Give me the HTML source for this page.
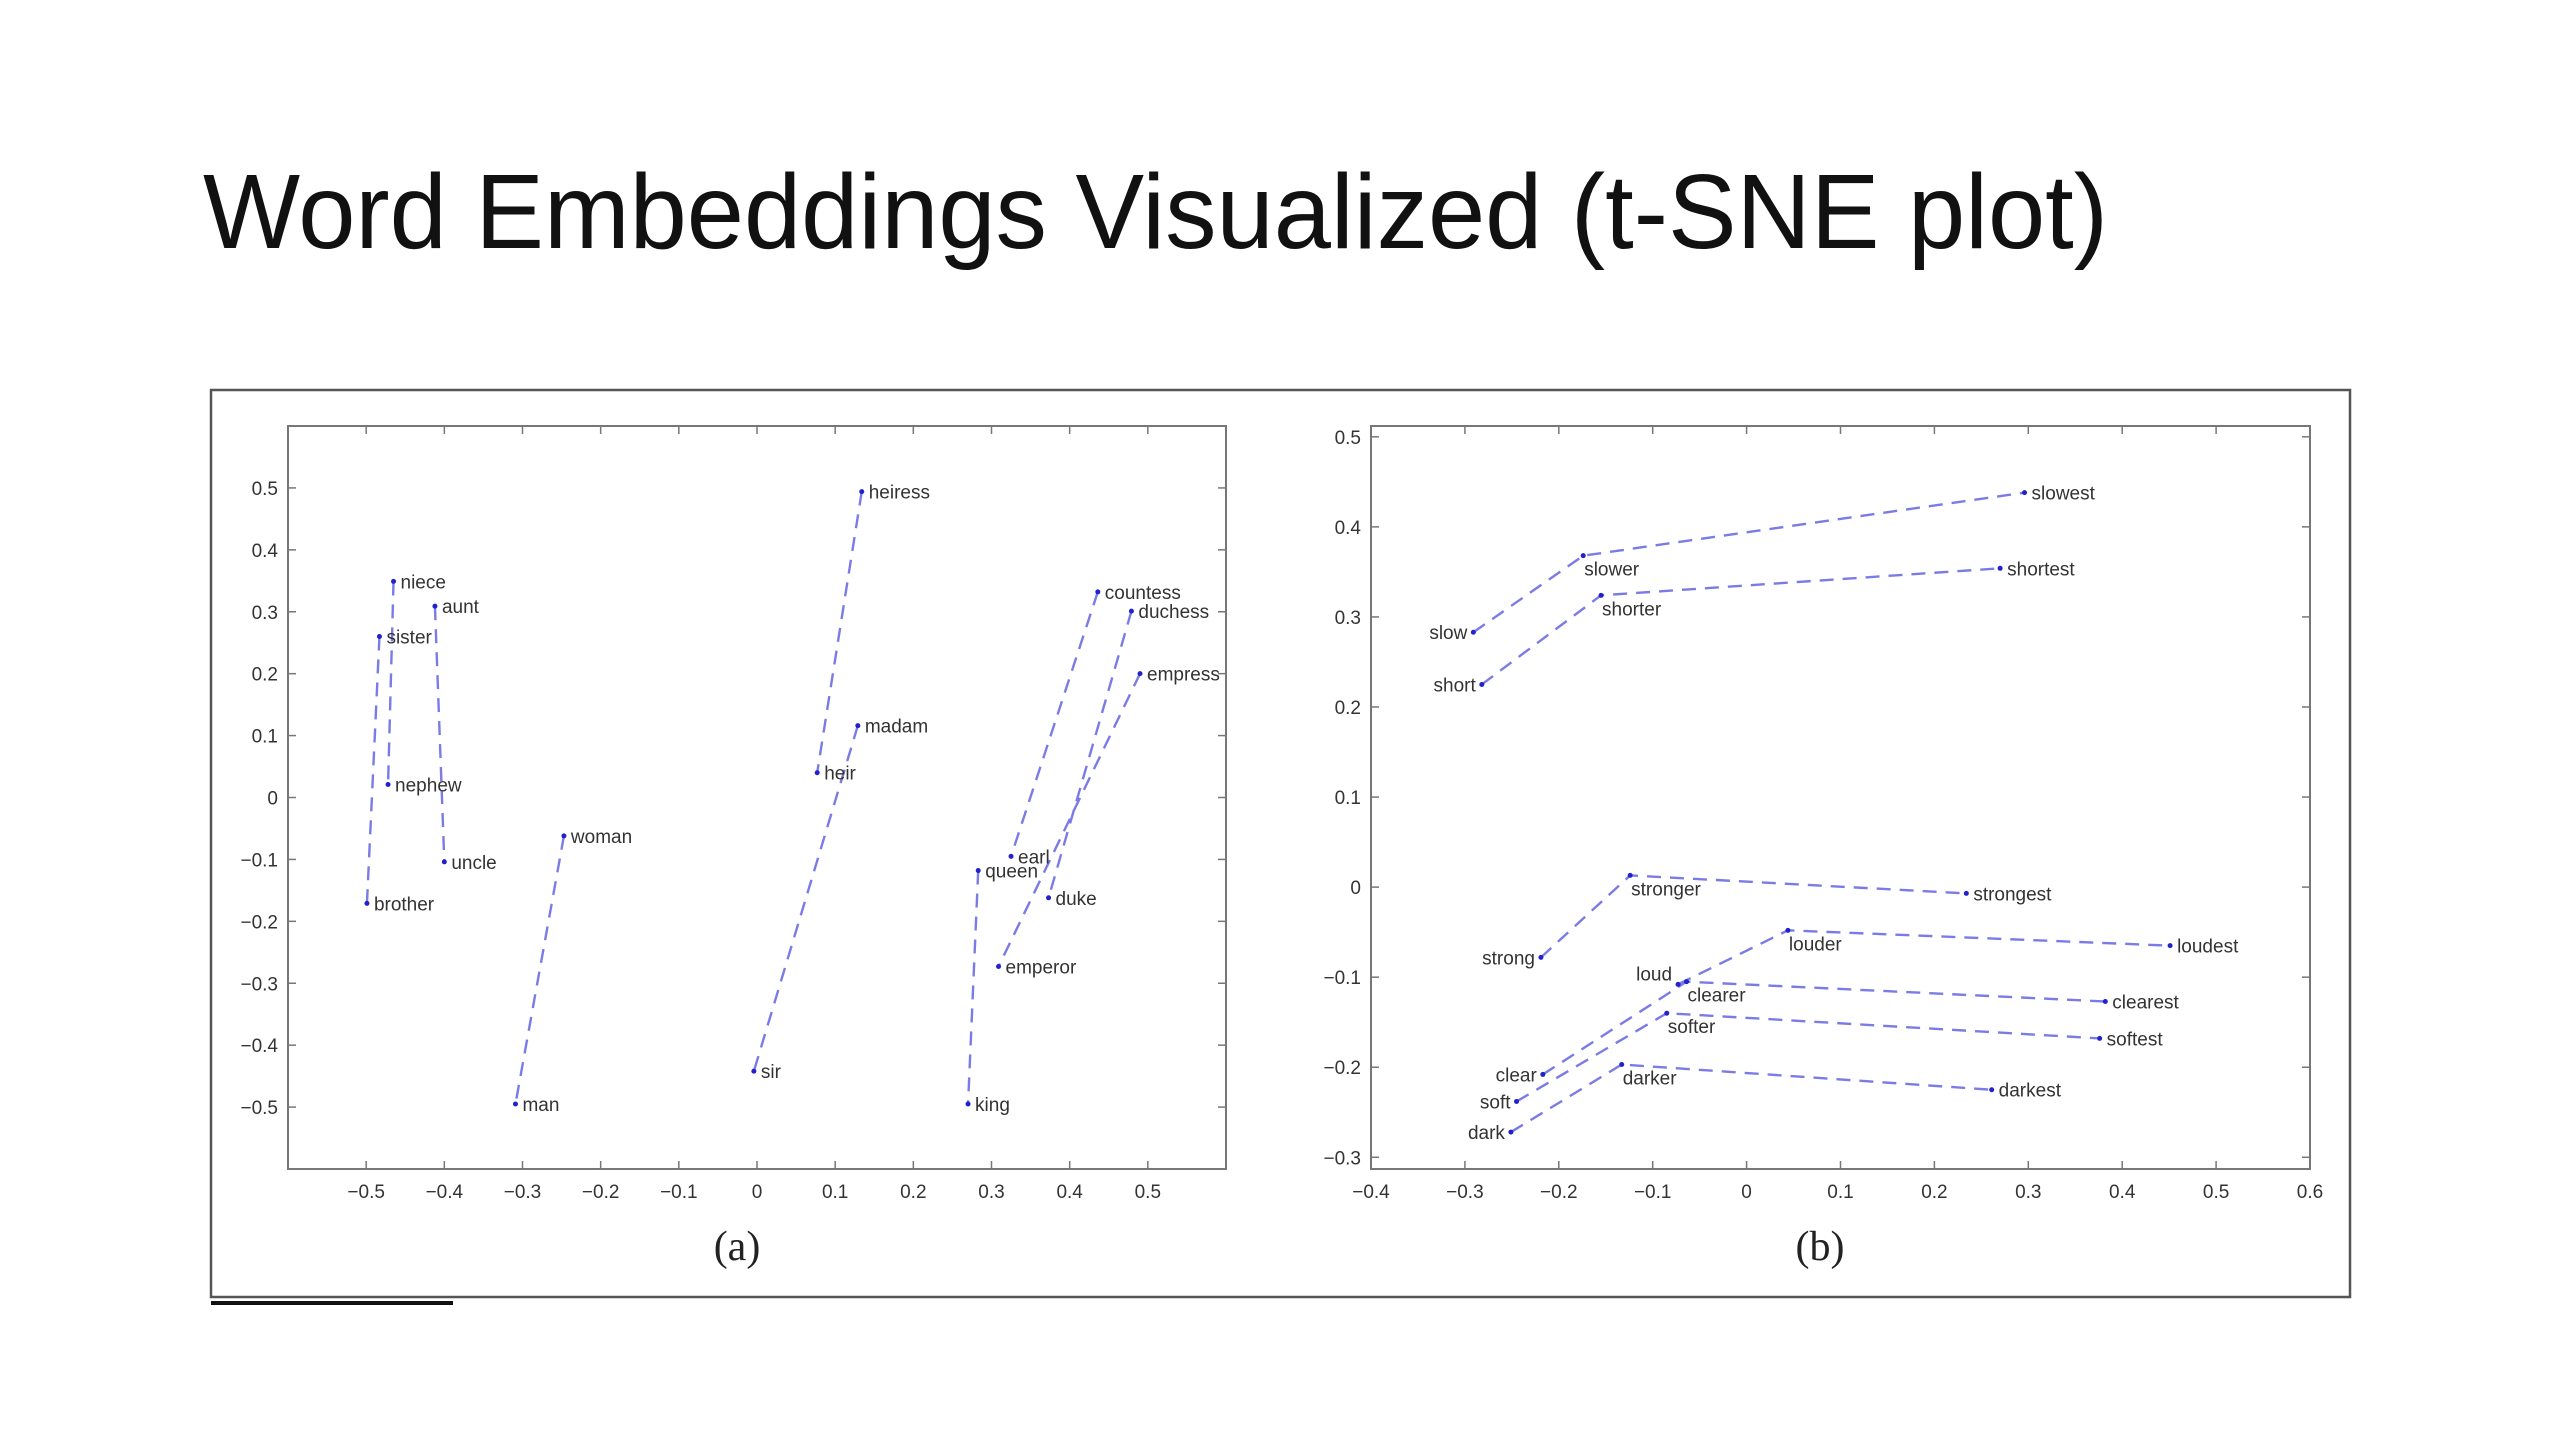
<!DOCTYPE html>
<html><head><meta charset="utf-8"><style>
html,body{margin:0;padding:0;background:#fff;}
svg{display:block;}
text{font-family:"Liberation Sans",Arial,sans-serif;}
</style></head><body>
<svg id="root" width="2560" height="1440" viewBox="0 0 2560 1440" xmlns="http://www.w3.org/2000/svg">
<text x="203" y="248" font-size="106" fill="#111" textLength="1905" lengthAdjust="spacingAndGlyphs" style="font-family:'DejaVu Sans ExtraLight','Liberation Sans',sans-serif;font-weight:200">Word Embeddings Visualized (t-SNE plot)</text>
<rect x="211" y="390" width="2139" height="907" fill="none" stroke="#555" stroke-width="2.5"/>
<rect x="211" y="1301" width="242" height="4" fill="#111"/>
<text x="737" y="1260" font-size="42" text-anchor="middle" style="font-family:'Liberation Serif',serif" fill="#222">(a)</text>
<text x="1820" y="1260" font-size="42" text-anchor="middle" style="font-family:'Liberation Serif',serif" fill="#222">(b)</text>
<g id="chartA"></g>
<g id="chartB"></g>
</svg>
<script>
// ---- Chart A data ----
const wordsA = ["niece","aunt","sister","nephew","uncle","brother","woman","man","heiress","madam","heir","sir","countess","duchess","empress","earl","queen","duke","emperor","king"];
const xA = [-0.465,-0.412,-0.483,-0.472,-0.400,-0.499,-0.247,-0.309,0.134,0.129,0.077,-0.004,0.436,0.479,0.490,0.325,0.283,0.373,0.309,0.270];
const yA = [0.349,0.309,0.260,0.021,-0.104,-0.171,-0.062,-0.495,0.494,0.116,0.040,-0.442,0.332,0.301,0.200,-0.095,-0.118,-0.162,-0.273,-0.495];
const pairsA = [["niece","nephew"],["aunt","uncle"],["sister","brother"],["woman","man"],["heiress","heir"],["madam","sir"],["countess","earl"],["duchess","duke"],["empress","emperor"],["queen","king"]];
const xTicksA = [-0.5,-0.4,-0.3,-0.2,-0.1,0,0.1,0.2,0.3,0.4,0.5];
const yTicksA = [0.5,0.4,0.3,0.2,0.1,0,-0.1,-0.2,-0.3,-0.4,-0.5];
const xLabelsA = ["\u22120.5","\u22120.4","\u22120.3","\u22120.2","\u22120.1","0","0.1","0.2","0.3","0.4","0.5"];
const yLabelsA = ["0.5","0.4","0.3","0.2","0.1","0","\u22120.1","\u22120.2","\u22120.3","\u22120.4","\u22120.5"];
// ---- Chart B data ----
const wordsB = ["slow","slower","slowest","short","shorter","shortest","strong","stronger","strongest","loud","louder","loudest","clear","clearer","clearest","soft","softer","softest","dark","darker","darkest"];
const xB = [-0.291,-0.174,0.296,-0.282,-0.155,0.270,-0.219,-0.124,0.234,-0.073,0.044,0.451,-0.217,-0.064,0.382,-0.245,-0.085,0.376,-0.251,-0.133,0.261];
const yB = [0.283,0.368,0.438,0.225,0.324,0.354,-0.078,0.013,-0.007,-0.108,-0.048,-0.065,-0.208,-0.105,-0.127,-0.238,-0.140,-0.168,-0.272,-0.197,-0.225];
const chainsB = [["slow","slower","slowest"],["short","shorter","shortest"],["strong","stronger","strongest"],["loud","louder","loudest"],["clear","clearer","clearest"],["soft","softer","softest"],["dark","darker","darkest"]];
const xTicksB = [-0.4,-0.3,-0.2,-0.1,0,0.1,0.2,0.3,0.4,0.5,0.6];
const yTicksB = [0.5,0.4,0.3,0.2,0.1,0,-0.1,-0.2,-0.3];
const xLabelsB = ["\u22120.4","\u22120.3","\u22120.2","\u22120.1","0","0.1","0.2","0.3","0.4","0.5","0.6"];
const yLabelsB = ["0.5","0.4","0.3","0.2","0.1","0","\u22120.1","\u22120.2","\u22120.3"];
const placeB = {slow:"l",short:"l",strong:"l",clear:"l",soft:"l",dark:"l",loud:"ul",slower:"br",shorter:"br",stronger:"br",louder:"br",clearer:"br",softer:"br",darker:"br"};

const NS="http://www.w3.org/2000/svg";
function mk(tag,parent){const e=document.createElementNS(NS,tag);parent.appendChild(e);return e;}

function drawChart(g,cfg){
  const sx=v=>cfg.left+(v-cfg.x0)/(cfg.x1-cfg.x0)*(cfg.right-cfg.left);
  const sy=v=>cfg.bottom-(v-cfg.y0)/(cfg.y1-cfg.y0)*(cfg.bottom-cfg.top);
  const box=mk("rect",g);
  
  
  box.setAttribute("x",cfg.left);box.setAttribute("y",cfg.top);
  box.setAttribute("width",cfg.right-cfg.left);box.setAttribute("height",cfg.bottom-cfg.top);
  box.setAttribute("fill","none");box.setAttribute("stroke","#777");box.setAttribute("stroke-width","2");
  cfg.xt.forEach((v,i)=>{
    const x=sx(v);
    [[cfg.bottom,cfg.bottom-8],[cfg.top,cfg.top+8]].forEach(p=>{
      const t=mk("line",g);
      
      
      t.setAttribute("x1",x);t.setAttribute("x2",x);t.setAttribute("y1",p[0]);t.setAttribute("y2",p[1]);
      t.setAttribute("stroke","#777");t.setAttribute("stroke-width","1.5");
    });
    const l=mk("text",g);
    
    
    l.setAttribute("x",x);l.setAttribute("y",cfg.bottom+29);l.setAttribute("text-anchor","middle");
    l.setAttribute("font-size","19");l.setAttribute("fill","#333");l.textContent=cfg.xl[i];
  });
  cfg.yt.forEach((v,i)=>{
    const y=sy(v);
    [[cfg.left,cfg.left+8],[cfg.right,cfg.right-8]].forEach(p=>{
      const t=mk("line",g);
      
      
      t.setAttribute("x1",p[0]);t.setAttribute("x2",p[1]);t.setAttribute("y1",y);t.setAttribute("y2",y);
      t.setAttribute("stroke","#777");t.setAttribute("stroke-width","1.5");
    });
    const l=mk("text",g);
    
    
    l.setAttribute("x",cfg.left-10);l.setAttribute("y",y+7);l.setAttribute("text-anchor","end");
    l.setAttribute("font-size","19");l.setAttribute("fill","#333");l.textContent=cfg.yl[i];
  });
  const idx=w=>cfg.words.indexOf(w);
  cfg.groups.forEach(grp=>{
    const pl=mk("polyline",g);
    
    
    pl.setAttribute("points",grp.map(w=>sx(cfg.xs[idx(w)])+","+sy(cfg.ys[idx(w)])).join(" "));
    pl.setAttribute("fill","none");pl.setAttribute("stroke","#7b7be6");pl.setAttribute("stroke-width","2.4");
    pl.setAttribute("stroke-dasharray","14 9");
  });
  cfg.words.forEach((w,i)=>{
    const x=sx(cfg.xs[i]),y=sy(cfg.ys[i]);
    const d=mk("circle",g);
    
    
    d.setAttribute("cx",x);d.setAttribute("cy",y);d.setAttribute("r","2.5");d.setAttribute("fill","#2222cc");
    const t=mk("text",g);
    
    
    const p=(cfg.place&&cfg.place[w])||"r";
    let tx=x+7,ty=y+7,anc="start";
    if(p==="l"){tx=x-6;anc="end";}
    if(p==="ul"){tx=x-6;ty=y-4;anc="end";}
    if(p==="br"){tx=x+1;ty=y+20;}
    t.setAttribute("x",tx);t.setAttribute("y",ty);t.setAttribute("text-anchor",anc);
    t.setAttribute("font-size","19");t.setAttribute("fill","#333");t.textContent=w;
  });
}
drawChart(document.getElementById("chartA"),{left:288,right:1226,top:426,bottom:1169,x0:-0.6,x1:0.6,y0:-0.6,y1:0.6,
  xt:xTicksA,xl:xLabelsA,yt:yTicksA,yl:yLabelsA,words:wordsA,xs:xA,ys:yA,groups:pairsA,place:{}});
drawChart(document.getElementById("chartB"),{left:1371,right:2310,top:426,bottom:1169,x0:-0.4,x1:0.6,y0:-0.313,y1:0.512,
  xt:xTicksB,xl:xLabelsB,yt:yTicksB,yl:yLabelsB,words:wordsB,xs:xB,ys:yB,groups:chainsB,place:placeB});
</script>
</body></html>
